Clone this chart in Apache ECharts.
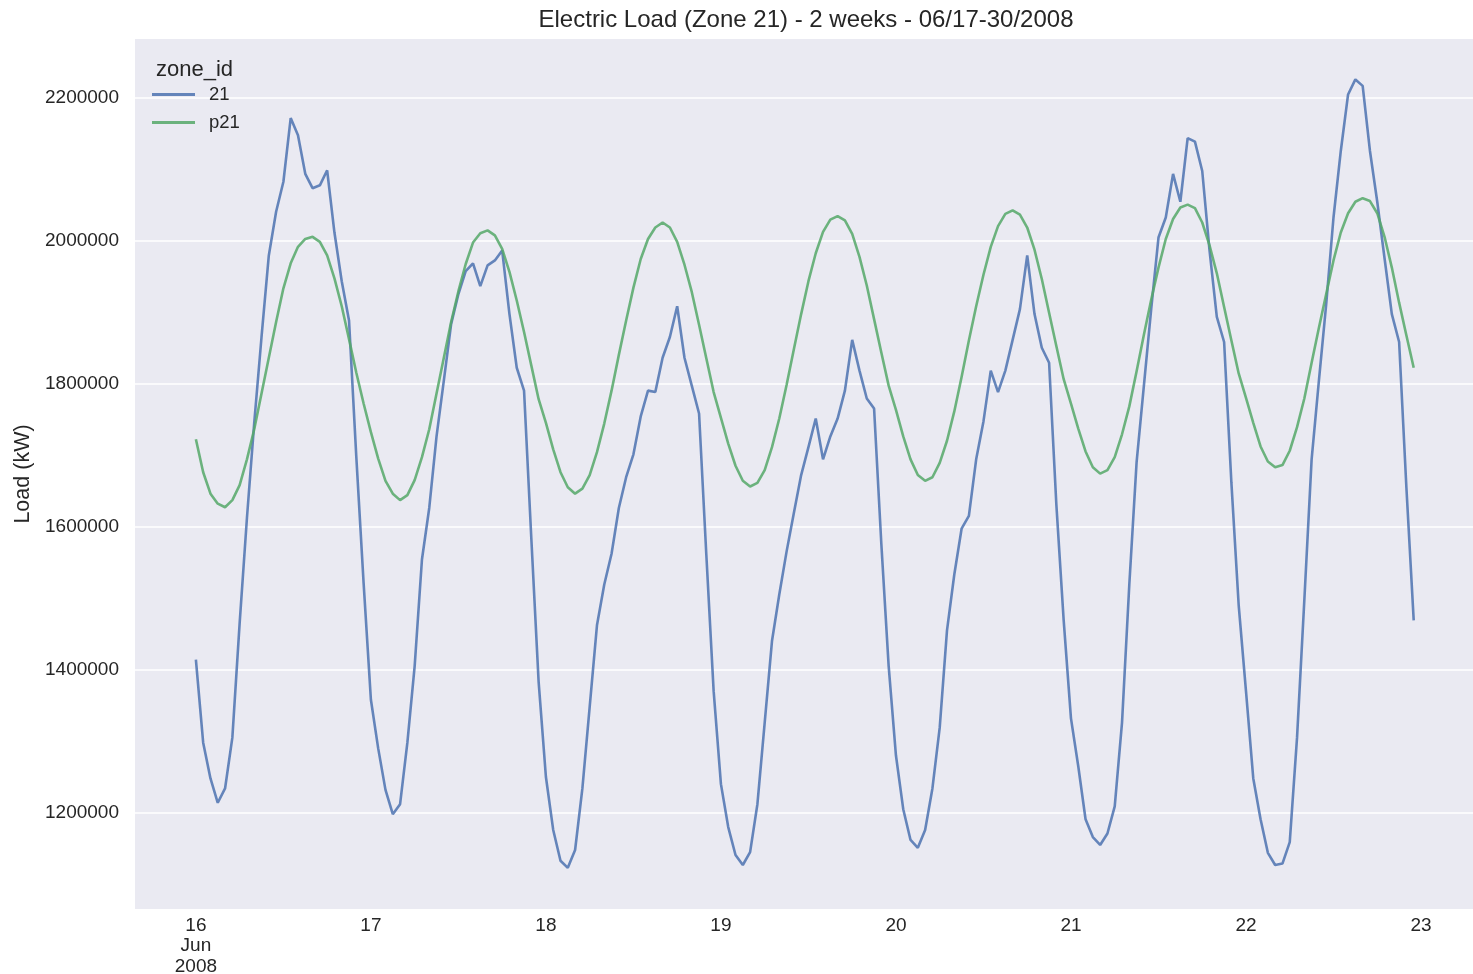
<!DOCTYPE html>
<html>
<head>
<meta charset="utf-8">
<script src="https://cdn.jsdelivr.net/npm/echarts@6/dist/echarts.min.js"></script>
<style>
  html, body { margin: 0; padding: 0; background: #ffffff; }
  #chart { width: 1473px; height: 974px; }
</style>
</head>
<body>
<div id="chart"></div>
<script>
// ---- data (hourly, 2008-06-16 00:00 .. 2008-06-22 23:00) ----
const startLabel = '2008-06-16 00:00';
const seriesNames = ['21', 'p21'];
const load21 = [
  1414000, 1298000, 1248000, 1214000, 1234000, 1305000, 1465000, 1612000, 1745000, 1865000, 1979000, 2040000,
  2082000, 2171000, 2147000, 2093000, 2073000, 2077000, 2098000, 2011000, 1943000, 1888000, 1697000, 1521000,
  1358000, 1290000, 1232000, 1198000, 1212000, 1298000, 1405000, 1554000, 1626000, 1726000, 1804000, 1883000,
  1925000, 1957000, 1968000, 1936000, 1965000, 1972000, 1986000, 1897000, 1822000, 1790000, 1583000, 1383000,
  1250000, 1176000, 1133000, 1123000, 1148000, 1234000, 1348000, 1462000, 1519000, 1562000, 1626000, 1669000,
  1701000, 1754000, 1790000, 1788000, 1836000, 1865000, 1908000, 1836000, 1797000, 1758000, 1560000, 1370000,
  1240000, 1180000, 1141000, 1127000, 1145000, 1212000, 1326000, 1440000, 1505000, 1565000, 1619000, 1672000,
  1711000, 1751000, 1694000, 1726000, 1751000, 1790000, 1861000, 1818000, 1779000, 1765000, 1575000, 1405000,
  1280000, 1205000, 1162000, 1151000, 1176000, 1234000, 1319000, 1455000, 1533000, 1597000, 1615000, 1694000,
  1747000, 1818000, 1788000, 1818000, 1861000, 1904000, 1979000, 1897000, 1850000, 1829000, 1630000, 1469000,
  1332000, 1265000, 1191000, 1166000, 1155000, 1171000, 1209000, 1326000, 1519000, 1690000, 1797000, 1904000,
  2004000, 2032000, 2093000, 2054000, 2143000, 2138000, 2097000, 1986000, 1893000, 1858000, 1661000, 1490000,
  1370000, 1248000, 1191000, 1144000, 1127000, 1129000, 1159000, 1305000, 1497000, 1694000, 1804000, 1911000,
  2032000, 2125000, 2204000, 2225000, 2216000, 2125000, 2054000, 1975000, 1897000, 1858000, 1654000, 1469000
];
const p21 = [
  1722000, 1676000, 1646000, 1632000, 1627000, 1637000, 1658000, 1694000, 1736000, 1786000, 1836000, 1886000,
  1933000, 1968000, 1991000, 2002000, 2005000, 1998000, 1979000, 1947000, 1908000, 1862000, 1815000, 1772000,
  1732000, 1695000, 1664000, 1646000, 1637000, 1644000, 1665000, 1697000, 1736000, 1786000, 1836000, 1886000,
  1929000, 1967000, 1997000, 2010000, 2014000, 2007000, 1988000, 1956000, 1916000, 1872000, 1825000, 1778000,
  1745000, 1708000, 1676000, 1655000, 1646000, 1653000, 1672000, 1704000, 1744000, 1790000, 1840000, 1888000,
  1934000, 1974000, 2002000, 2018000, 2025000, 2018000, 1998000, 1966000, 1928000, 1882000, 1835000, 1788000,
  1752000, 1716000, 1685000, 1664000, 1656000, 1661000, 1679000, 1711000, 1751000, 1798000, 1848000, 1897000,
  1943000, 1982000, 2012000, 2029000, 2034000, 2028000, 2009000, 1977000, 1937000, 1890000, 1843000, 1797000,
  1763000, 1726000, 1694000, 1672000, 1664000, 1669000, 1689000, 1720000, 1761000, 1809000, 1860000, 1908000,
  1952000, 1991000, 2020000, 2037000, 2042000, 2036000, 2018000, 1987000, 1946000, 1899000, 1852000, 1806000,
  1772000, 1737000, 1705000, 1683000, 1674000, 1679000, 1697000, 1729000, 1768000, 1817000, 1868000, 1917000,
  1962000, 2002000, 2030000, 2046000, 2050000, 2045000, 2025000, 1993000, 1954000, 1907000, 1860000, 1814000,
  1780000, 1745000, 1712000, 1691000, 1683000, 1686000, 1706000, 1739000, 1779000, 1829000, 1878000, 1925000,
  1972000, 2011000, 2038000, 2054000, 2059000, 2055000, 2038000, 2005000, 1962000, 1913000, 1867000, 1822000
];
// x tick labels (one per day, at midnight)
const xTickLabels = ['16\nJun\n2008', '17', '18', '19', '20', '21', '22', '23'];
const yTickValues = [1200000, 1400000, 1600000, 1800000, 2000000, 2200000];

// ---- build ----
const hoursPerDay = 24;
const xTickValues = xTickLabels.map((_, i) => i * hoursPerDay);
const toPairs = arr => arr.map((v, i) => [i, v]);

const TXT = '#262626';
const FONT = '"Liberation Sans", Arial, sans-serif';

const chart = echarts.init(document.getElementById('chart'), null, { renderer: 'canvas' });
chart.setOption({
  animation: false,
  backgroundColor: '#ffffff',
  textStyle: { fontFamily: FONT },
  title: [
    {
      text: 'Electric Load (Zone 21) - 2 weeks - 06/17-30/2008',
      left: 806, top: 8, textAlign: 'center', padding: 0,
      textStyle: { fontSize: 24, fontWeight: 'normal', color: TXT, fontFamily: FONT }
    },
    {
      text: 'zone_id',
      left: 156, top: 59, padding: 0,
      textStyle: { fontSize: 22, fontWeight: 'normal', color: TXT, fontFamily: FONT }
    }
  ],
  legend: {
    data: seriesNames,
    orient: 'vertical',
    left: 152, top: 85, padding: 0,
    itemGap: 9,
    itemWidth: 43, itemHeight: 3,
    icon: 'rect',
    textStyle: { fontSize: 18.5, color: TXT, fontFamily: FONT, padding: [0, 0, 0, 9] }
  },
  grid: {
    left: 135, right: 0, top: 39, bottom: 65,
    show: true, backgroundColor: '#EAEAF2', borderWidth: 0,
    containLabel: false,
    outerBoundsMode: 'none'
  },
  xAxis: {
    type: 'value',
    min: -8.35, max: 175.13,
    axisLine: { show: false },
    axisTick: { show: false, customValues: xTickValues },
    splitLine: { show: false },
    axisLabel: {
      customValues: xTickValues,
      formatter: v => xTickLabels[Math.round(v / hoursPerDay)],
      fontSize: 19, color: TXT, lineHeight: 20.8, margin: 6, fontFamily: FONT,
      showMinLabel: true, showMaxLabel: true
    }
  },
  yAxis: {
    type: 'value',
    min: 1065500, max: 2281500,
    name: 'Load (kW)',
    nameLocation: 'middle',
    nameGap: 100,
    nameTextStyle: { fontSize: 21.5, color: TXT, fontFamily: FONT },
    axisLine: { show: false },
    axisTick: { show: false, customValues: yTickValues },
    splitLine: { show: true, lineStyle: { color: '#ffffff', width: 1.5 } },
    axisLabel: {
      customValues: yTickValues,
      fontSize: 19, color: TXT, margin: 16, fontFamily: FONT,
      formatter: v => String(v)
    }
  },
  series: [
    {
      name: seriesNames[0], type: 'line', data: toPairs(load21),
      showSymbol: false, symbol: 'none',
      color: '#4C72B0',
      lineStyle: { width: 2.6, color: '#4C72B0', opacity: 0.85 },
      itemStyle: { color: '#4C72B0', opacity: 0.85 }
    },
    {
      name: seriesNames[1], type: 'line', data: toPairs(p21),
      showSymbol: false, symbol: 'none',
      color: '#55A868',
      lineStyle: { width: 2.6, color: '#55A868', opacity: 0.85 },
      itemStyle: { color: '#55A868', opacity: 0.85 }
    }
  ]
});
</script>
</body>
</html>
